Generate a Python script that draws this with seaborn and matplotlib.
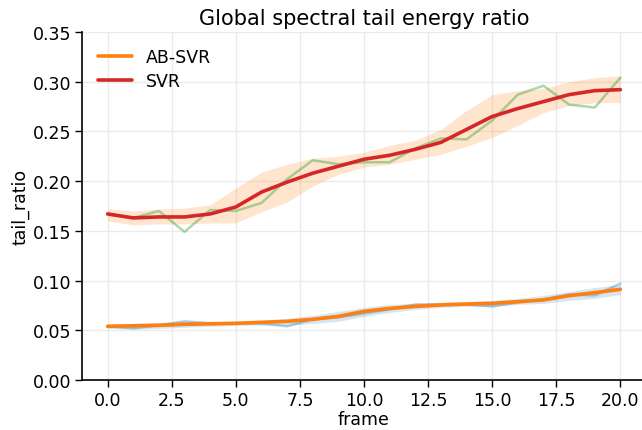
import numpy as np
import pandas as pd
import seaborn as sns
import matplotlib.pyplot as plt

# frames 0..20
frames = list(range(21))

# AB-SVR: raw per-frame values, smoothed curve and band
ab_raw = [0.054, 0.052, 0.055, 0.059, 0.057, 0.057, 0.057, 0.054, 0.061, 0.063,
          0.067, 0.071, 0.076, 0.076, 0.076, 0.074, 0.078, 0.081, 0.086, 0.085, 0.097]
ab_smooth = [0.054, 0.0545, 0.055, 0.056, 0.0565, 0.057, 0.058, 0.059, 0.061, 0.064,
             0.069, 0.072, 0.074, 0.0755, 0.0764, 0.0771, 0.0788, 0.0805, 0.0848, 0.0878, 0.0912]
ab_lower = [0.052, 0.051, 0.052, 0.053, 0.054, 0.055, 0.055, 0.055, 0.057, 0.059,
            0.064, 0.068, 0.071, 0.073, 0.074, 0.074, 0.076, 0.077, 0.080, 0.082, 0.086]
ab_upper = [0.056, 0.057, 0.058, 0.059, 0.059, 0.059, 0.060, 0.062, 0.065, 0.069,
            0.073, 0.076, 0.077, 0.078, 0.079, 0.080, 0.082, 0.085, 0.089, 0.093, 0.096]

# SVR: raw per-frame values, smoothed curve and band
svr_raw = [0.167, 0.163, 0.170, 0.149, 0.171, 0.170, 0.178, 0.202, 0.221, 0.217,
           0.219, 0.219, 0.233, 0.243, 0.242, 0.261, 0.287, 0.296, 0.277, 0.274, 0.304]
svr_smooth = [0.167, 0.163, 0.164, 0.164, 0.167, 0.174, 0.189, 0.199, 0.208, 0.215,
              0.222, 0.226, 0.232, 0.239, 0.252, 0.265, 0.273, 0.280, 0.287, 0.291, 0.292]
svr_lower = [0.160, 0.156, 0.157, 0.157, 0.158, 0.158, 0.169, 0.179, 0.195, 0.207,
             0.214, 0.217, 0.222, 0.227, 0.235, 0.244, 0.256, 0.269, 0.276, 0.279, 0.279]
svr_upper = [0.172, 0.170, 0.172, 0.173, 0.176, 0.193, 0.209, 0.217, 0.223, 0.225,
             0.229, 0.236, 0.241, 0.252, 0.271, 0.287, 0.291, 0.293, 0.300, 0.304, 0.306]

sns.set_theme(style="whitegrid")
plt.rcParams['font.family'] = ['DejaVu Sans']
plt.rcParams['text.color'] = 'black'
plt.rcParams['axes.labelcolor'] = 'black'
plt.rcParams['xtick.color'] = 'black'
plt.rcParams['ytick.color'] = 'black'

fig = plt.figure(figsize=(6.42, 4.31), dpi=100)
ax = fig.add_axes([82 / 642, 50 / 431, 564 / 642, 348 / 431])

ax.fill_between(frames, ab_lower, ab_upper, color='#1f77b4', alpha=0.18, linewidth=0)
ax.fill_between(frames, svr_lower, svr_upper, color='#ff7f0e', alpha=0.2, linewidth=0)
sns.lineplot(x=frames, y=ab_raw, ax=ax, color='#1f77b4', alpha=0.35, linewidth=1.8)
sns.lineplot(x=frames, y=svr_raw, ax=ax, color='#2ca02c', alpha=0.4, linewidth=1.8)
sns.lineplot(x=frames, y=ab_smooth, ax=ax, color='#ff7f0e', linewidth=2.6, label='AB-SVR')
sns.lineplot(x=frames, y=svr_smooth, ax=ax, color='#d62728', linewidth=2.6, label='SVR')

ax.set_ylim(0, 0.35)
ax.set_xlim(-1, 21)
ax.set_title('Global spectral tail energy ratio', fontsize=15, pad=6)
ax.set_xlabel('frame', fontsize=12.5, labelpad=1)
ax.set_ylabel('tail_ratio', fontsize=12.5, labelpad=2)
ax.tick_params(axis='both', labelsize=12.5, length=5, width=1, pad=3, bottom=True, left=True)
ax.grid(color='#ebebeb', linewidth=1)
for s in ['left', 'bottom']:
    ax.spines[s].set_color('black')
    ax.spines[s].set_linewidth(1.2)
sns.despine(ax=ax)
ax.legend(loc='upper left', frameon=False, fontsize=12.5, labelspacing=0.35)

plt.savefig('out.png')
